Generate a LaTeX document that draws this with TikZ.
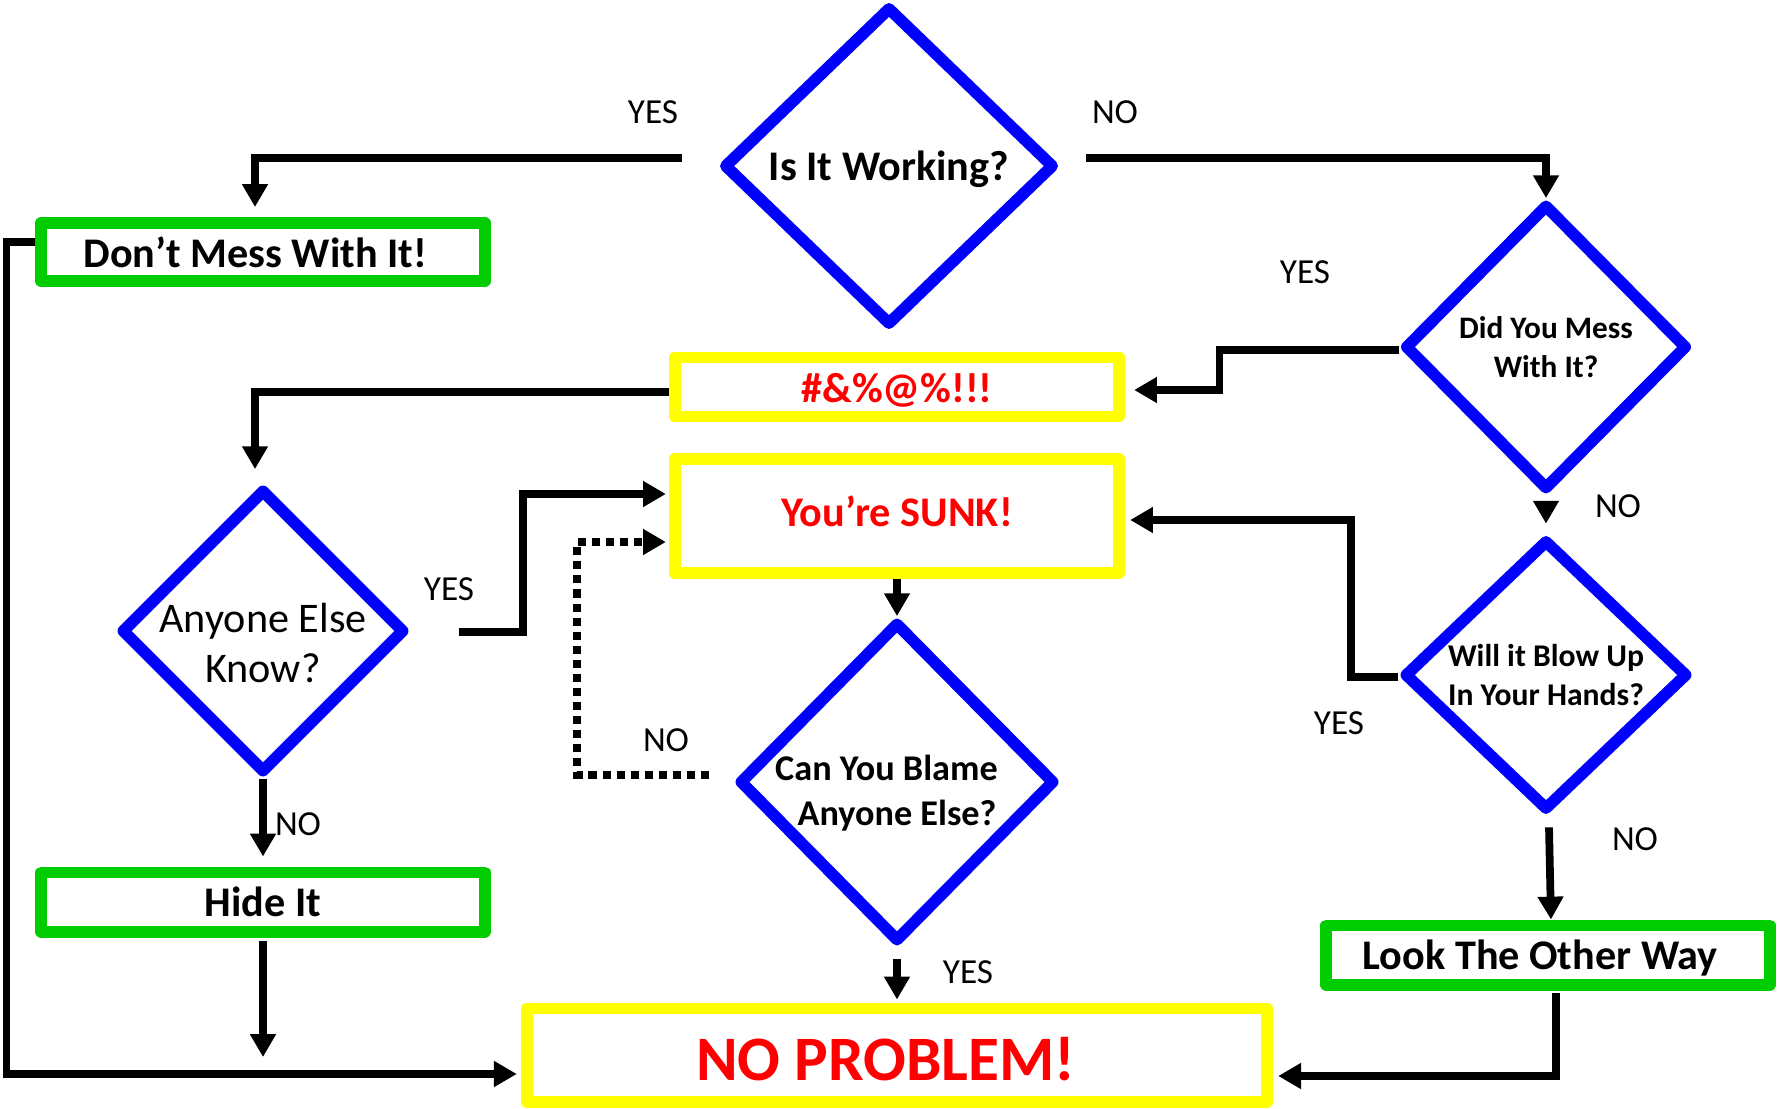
\documentclass[tikz,border=0pt]{standalone}
\usepackage{fontspec}
\setmainfont{Carlito}
\usetikzlibrary{arrows.meta,shapes.geometric,calc}

\definecolor{qblue}{RGB}{0,0,255}
\definecolor{qgreen}{RGB}{0,204,0}
\definecolor{qyellow}{RGB}{255,255,0}
\definecolor{qred}{RGB}{255,0,0}

\begin{document}
\begin{tikzpicture}[x=0.01cm, y=-0.01cm, >={Triangle[length=6.5pt,width=7pt]},
    question/.style={diamond, draw=qblue, line width=3.3pt, line join=round, inner sep=-4pt, align=center},
    greenbox/.style={draw=qgreen, line width=3.4pt, line join=round, inner sep=0pt, font=\bfseries\fontsize{12}{14}\selectfont},
    yellowbox/.style={draw=qyellow, line width=3.4pt, line join=round, inner sep=0pt, text=qred},
    flow/.style={line width=2.2pt, ->},
    dotflow/.style={line width=2.2pt, ->, dash pattern=on 2.3pt off 1.7pt},
    answer/.style={font=\fontsize{10}{12}\selectfont}]
    \useasboundingbox (0,0) rectangle (1778,1109);

    % Questions
    \node[question, minimum width=3.31cm, minimum height=3.19cm, font=\bfseries\fontsize{12}{14}\selectfont] (work) at (889,166) {\rule{0pt}{10.4pt}Is It Working?};
    \node[question, minimum width=2.83cm, minimum height=2.86cm, font=\bfseries\fontsize{8.9}{11.1}\selectfont] (did) at (1546,347) {Did You Mess\\With It?};
    \node[question, minimum width=2.84cm, minimum height=2.84cm, font=\fontsize{12}{14.2}\selectfont] (anyone) at (263,631) {\rule{0pt}{15.2pt}Anyone Else\\Know?};
    \node[question, minimum width=3.16cm, minimum height=3.20cm, font=\bfseries\fontsize{10.3}{12.8}\selectfont] (blame) at (897,782) {\rule{0pt}{13.4pt}Can You Blame\hspace*{6pt}\\Anyone Else?};
    \node[question, minimum width=2.84cm, minimum height=2.71cm, font=\bfseries\fontsize{9}{11.1}\selectfont] (blow) at (1546,675) {Will it Blow Up\\In Your Hands?};

    % Boxes
    \node[greenbox, minimum width=4.43cm, minimum height=0.58cm] (dont) at (263,252) {Don’t Mess With It!\hspace*{4.4pt}};
    \node[greenbox, minimum width=4.43cm, minimum height=0.59cm] (hideit) at (263,902) {Hide It};
    \node[greenbox, minimum width=4.43cm, minimum height=0.59cm] (look) at (1548,955) {\rule{0pt}{10.4pt}Look The Other Way\hspace*{4.4pt}};
    \node[yellowbox, minimum width=4.44cm, minimum height=0.59cm, font=\bfseries\fontsize{12}{14}\selectfont] (curse) at (897,387) {\rule{0pt}{9.9pt}\#\&\%@\%!!!};
    \node[yellowbox, minimum width=4.44cm, minimum height=1.14cm, font=\bfseries\fontsize{12}{14}\selectfont] (sunk) at (897,516) {\rule[-2.6pt]{0pt}{2.6pt}You’re SUNK!};
    \node[yellowbox, minimum width=7.40cm, minimum height=0.93cm, font=\bfseries\fontsize{18}{21}\selectfont] (noprob) at (897,1055) {\rule{0pt}{14.5pt}NO PROBLEM!\hspace*{6.4pt}};
    \coordinate (hidend) at (263,1057);

    % Answers
    \node[answer] (yes1) at (653,112) {YES};
    \node[answer] (no1) at (1115,112) {NO};
    \node[answer] (yes2) at (1305,272) {YES};
    \node[answer] (no2) at (1618,506) {NO};
    \node[answer] (yes3) at (449,589) {YES};
    \node[answer] (no3) at (298,824) {NO};
    \node[answer] (no4) at (666,740) {NO};
    \node[answer] (yes4) at (1339,723) {YES};
    \node[answer] (no5) at (1635,839) {NO};
    \node[answer] (yes5) at (968,972) {YES};

    % Connectors
    \draw[flow] ($(work.west)+(-36,-8)$) -| ($(dont.north)+(-8,-10)$);
    \draw[flow] ($(work.east)+(26,-8)$) -| (did.north);
    \draw[flow] ($(did.west)+(0,3)$) -- ++(-179,0) |- ($(curse.east)+(9,3)$);
    \draw[flow] ($(curse.west)+(0,5)$) -| ($(anyone.north)+(-8,-14)$);
    \draw[flow] ($(anyone.east)+(48,1)$) -- ++(64,0) |- ($(sunk.west)+(-3,-22)$);
    \draw[dotflow] ($(blame.west)+(-24,-7)$) -- ++(-132,0) |- ($(sunk.west)+(-3,26)$);
    \draw[flow] (sunk.south) -- (blame.north);
    \draw[flow] ($(blame.south)+(0,11)$) -- ($(noprob.north)+(0,-3)$);
    \draw[flow] ($(did.south)+(0,10)$) -- ($(blow.north)+(0,-10)$);
    \draw[flow] ($(blow.west)+(0,2)$) -- ++(-47,0) |- ($(sunk.east)+(5,4)$);
    \draw[flow] ($(blow.south)+(3,11)$) -- ($(look.north)+(3,0)$);
    \draw[flow] ($(look.south)+(8,2)$) |- ($(noprob.east)+(5,21)$);
    \draw[flow] (anyone.south) -- ($(hideit.north)+(0,-10)$);
    \draw[flow] ($(hideit.south)+(0,3)$) -- (hidend);
    \draw[flow] ($(dont.west)+(0,-10)$) -- ++(-29,0) |- ($(noprob.west)+(-4,19)$);
\end{tikzpicture}
\end{document}
